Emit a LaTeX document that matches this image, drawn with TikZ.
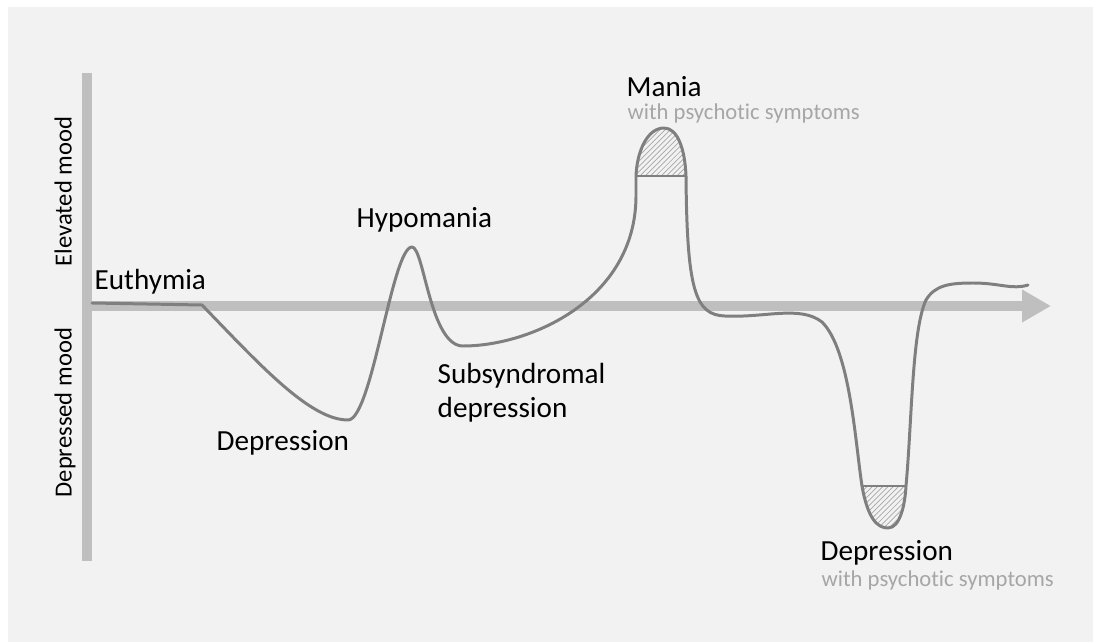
\documentclass[tikz,border=0pt]{standalone}
\usepackage{fontspec}
\setmainfont[Ligatures=NoCommon]{Carlito}
\usepackage{xcolor}
\usetikzlibrary{arrows.meta,patterns}

\definecolor{bggrey}{HTML}{F2F2F2}
\definecolor{axisgrey}{HTML}{BFBFBF}
\definecolor{curvegrey}{HTML}{7F7F7F}
\definecolor{subgrey}{HTML}{A6A6A6}

\begin{document}
\begin{tikzpicture}[x=0.02cm,y=-0.02cm,thick,
    axis line/.style={axisgrey,line width=5.7pt},
    mood curve/.style={curvegrey,line width=1.7pt,line join=round,line cap=round},
    psy cap/.style={pattern=north east lines,pattern color=subgrey},
    state label/.style={anchor=base west,inner sep=0pt,font=\fontsize{16.6}{20}\selectfont},
    sub label/.style={anchor=base west,inner sep=0pt,text=subgrey,font=\fontsize{12.9}{15}\selectfont},
    axis label/.style={anchor=base west,inner sep=0pt,rotate=90,font=\fontsize{14}{17}\selectfont}]
    \useasboundingbox (0,0) rectangle (1093,642);
    \fill[bggrey] (8,7) rectangle (1093,642);

    % axes
    \draw[axis line] (87,73) -- (87,561);
    \draw[axis line,-{Triangle[length=16.5pt,width=17.6pt]}] (82,306) -- (1051,306);

    % ends of the psychotic parts
    \coordinate (mL) at (636,176);
    \coordinate (mR) at (686,176);
    \coordinate (dL) at (862,486);
    \coordinate (dR) at (906,486);

    \fill[psy cap] (mL) .. controls (637,150) and (648,128) .. (664,128)
        .. controls (678,128) and (685,150) .. (mR) -- cycle;
    \fill[psy cap] (dL) .. controls (868,520) and (878,528) .. (888,528)
        .. controls (900,528) and (905,505) .. (dR) -- cycle;
    \draw[curvegrey,line width=1.2pt] (mL) -- (mR);
    \draw[curvegrey,line width=1.2pt] (dL) -- (dR);

    % mood curve
    \draw[mood curve] (92,303) -- (202,305)
        .. controls (260,365) and (310,420) .. (348,420)
        .. controls (372,420) and (392,247) .. (412,247)
        .. controls (424,247) and (430,346) .. (463,346)
        .. controls (530,346) and (635,300) .. (636,197)
        -- (mL)
        .. controls (637,150) and (648,128) .. (664,128)
        .. controls (678,128) and (685,150) .. (mR)
        .. controls (687,290) and (695,315) .. (725,316)
        .. controls (765,318) and (800,305) .. (822,322)
        .. controls (850,350) and (855,440) .. (dL)
        .. controls (868,520) and (878,528) .. (888,528)
        .. controls (900,528) and (905,505) .. (dR)
        .. controls (912,420) and (912,330) .. (926,300)
        .. controls (935,285) and (950,283) .. (973,283)
        .. controls (1000,283) and (1012,290) .. (1028,285);

    % labels
    \node[state label] (euth) at (94,289) {Euthymia};
    \node[state label] (hypo) at (356,228) {Hypomania};
    \node[state label] (mania) at (626,97) {Mania};
    \node[sub label] (maniapsy) at (627,120) {with psychotic symptoms};
    \node[state label] (dep) at (216,450) {Depression};
    \node[state label] (subsyn) at (437,383) {Subsyndromal};
    \node[state label] (subdep) at (437,417) {depression};
    \node[state label] (deppsy) at (820,560) {Depression};
    \node[sub label] (deppsysub) at (821,586) {with psychotic symptoms};

    \node[axis label] (elev) at (71.5,267) {Elevated mood};
    \node[axis label] (depr) at (71.5,498) {Depressed mood};
\end{tikzpicture}
\end{document}
